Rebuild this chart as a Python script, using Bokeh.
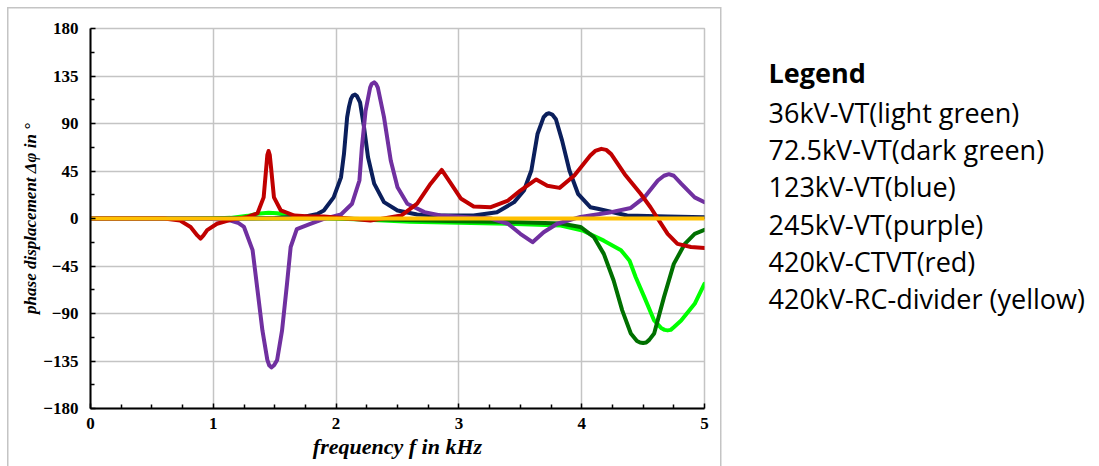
from bokeh.plotting import figure
from bokeh.models import Range1d, FixedTicker
from bokeh.layouts import row
from bokeh.core.properties import value
from bokeh.embed import file_html
from bokeh.resources import INLINE

# ---------------- data ----------------
names = ["36kV-VT(light green)", "72.5kV-VT(dark green)", "123kV-VT(blue)",
         "245kV-VT(purple)", "420kV-CTVT(red)", "420kV-RC-divider (yellow)"]
colors = ["#00ff00", "#007000", "#0b1f5c", "#7030a0", "#c00000", "#ffc000"]

x_lgreen = [0, 0.5, 1.0, 1.14, 1.28, 1.36, 1.45, 1.52, 1.63, 1.75, 2.0, 2.3, 2.6, 3.0, 3.4,
            3.83, 4.007, 4.18, 4.32, 4.39, 4.44, 4.51, 4.59, 4.65, 4.675, 4.70, 4.725, 4.75,
            4.81, 4.92, 5.0]
y_lgreen = [0, 0, 0, 0.6, 2.5, 4.4, 5.5, 5, 2.8, 1, 0, -1.5, -3, -4, -5,
            -6.6, -11.4, -21, -30, -40, -55.6, -74.5, -96.6, -104, -105.5, -106, -105.5, -103,
            -96.6, -80.8, -61.8]

x_dgreen = [0, 1.0, 2.0, 2.4, 3.0, 3.5, 3.83, 3.99, 4.10, 4.18, 4.26, 4.33, 4.40, 4.45,
            4.475, 4.50, 4.525, 4.55, 4.59, 4.67, 4.75, 4.84, 4.92, 5.0]
y_dgreen = [0, 0, 0, -1, -2.5, -3.5, -4.7, -8, -17.7, -33.5, -58.7, -87, -109, -116,
            -117.5, -118, -117.5, -115, -109, -74.5, -43, -24, -14.5, -10.7]

x_blue = [0, 1.0, 1.5, 1.75, 1.85, 1.90, 1.98, 2.04, 2.064, 2.09, 2.105, 2.12, 2.135, 2.154,
          2.17, 2.195, 2.228, 2.26, 2.31, 2.39, 2.50, 2.66, 2.85, 3.12, 3.31, 3.45, 3.53,
          3.59, 3.64, 3.69, 3.715, 3.735, 3.76, 3.79, 3.84, 3.90, 3.97, 4.07, 4.13, 4.37,
          4.7, 5.0]
y_blue = [0, 0, 0.5, 2, 4.4, 7.6, 20, 39, 61, 96, 106, 113, 116.5, 117.4,
          116, 110, 86, 58, 33, 15.5, 7.6, 3.8, 2.8, 2.8, 6, 15.5, 26.5,
          45.5, 80, 96, 99, 99.7, 98.5, 94, 74, 45.5, 23.4, 10.7, 9.2, 2.8,
          1.8, 1.3]

x_purple = [0, 0.8, 1.0, 1.14, 1.20, 1.25, 1.32, 1.36, 1.40, 1.44, 1.455, 1.473, 1.495, 1.52,
            1.56, 1.60, 1.63, 1.68, 1.79, 1.90, 2.04, 2.13, 2.19, 2.21, 2.24, 2.277, 2.29,
            2.31, 2.325, 2.34, 2.39, 2.445, 2.50, 2.58, 2.72, 2.85, 3.10, 3.26, 3.40, 3.50,
            3.60, 3.69, 3.80, 3.99, 4.24, 4.40, 4.51, 4.62, 4.67, 4.71, 4.75, 4.81, 4.92, 5.0]
y_purple = [0, 0, -0.5, -2, -4, -8, -30, -68, -106, -134, -139, -141, -139, -134,
            -106, -62, -27, -10, -5, -0.3, 3.8, 14, 36, 67.5, 102, 124, 127.5,
            129, 127.5, 124, 96, 55, 29.6, 14, 6, 2.8, 1, 0, -5, -14.5,
            -22.4, -13, -5, 1.5, 6, 10, 20, 36, 40.5, 42, 40.5, 33, 20, 15.4]

x_red = [0, 0.6, 0.73, 0.815, 0.87, 0.896, 0.92, 0.95, 1.03, 1.14, 1.28, 1.36, 1.41, 1.434,
         1.44, 1.45, 1.46, 1.47, 1.494, 1.55, 1.66, 1.79, 1.90, 2.1, 2.28, 2.53, 2.66, 2.77,
         2.86, 2.93, 3.015, 3.12, 3.26, 3.40, 3.50, 3.63, 3.72, 3.82, 3.94, 4.07, 4.11, 4.16,
         4.20, 4.24, 4.35, 4.48, 4.56, 4.63, 4.70, 4.78, 4.89, 5.0]
y_red = [0, 0, -2, -8, -16, -19, -16, -11, -5, -1.3, 1.5, 5, 20, 52,
         60, 64, 60, 48.6, 20, 7.6, 2.8, 1.9, 1.9, 0, -2, 2.8, 14, 33,
         46, 34, 19, 11.4, 10.7, 17, 26.5, 37, 31, 29, 40.7, 59.7, 64, 66,
         65, 61, 42, 23.4, 10.7, -2, -14.5, -24, -27, -28]

x_yellow = [0, 1, 2, 3, 4, 5]
y_yellow = [0, 0, 0, 0, 0, 0]

x_ticks = [0, 1, 2, 3, 4, 5]
y_ticks = [-180, -135, -90, -45, 0, 45, 90, 135, 180]
x_label = "frequency f in kHz"
y_label = "phase displacement \u0394\u03c6 in \u00b0"
legend_title = "Legend"

series = [(x_lgreen, y_lgreen), (x_dgreen, y_dgreen), (x_blue, y_blue),
          (x_purple, y_purple), (x_red, y_red), (x_yellow, y_yellow)]

GRID = "#c4c4c4"
W1, H = 722, 466

# ---------------- chart ----------------
# thin gray frame around the chart panel (CSS lines behind a transparent border area)
frame_css = {
    "background-image": ", ".join([f"linear-gradient({GRID}, {GRID})"] * 3),
    "background-position": "7px 7px, 7px 7px, 720px 7px",
    "background-size": "714px 1.5px, 1.5px 500px, 1.5px 500px",
    "background-repeat": "no-repeat",
}
p = figure(width=W1, height=H, output_backend="svg", toolbar_location=None,
           x_range=Range1d(0, 5), y_range=Range1d(-180, 180),
           min_border_left=90, min_border_right=W1 - 704, min_border_top=28,
           min_border_bottom=H - 408, styles=frame_css)
p.background_fill_color = "white"
p.border_fill_alpha = 0
p.outline_line_color = GRID
p.outline_line_width = 1.5

minor_x = [i * 0.25 for i in range(21) if i % 4 != 0]
minor_y = [-180 + 22.5 * i for i in range(17) if i % 2 == 1]
p.xaxis.ticker = FixedTicker(ticks=x_ticks, minor_ticks=minor_x)
p.yaxis.ticker = FixedTicker(ticks=y_ticks, minor_ticks=minor_y)

for ax in (p.xaxis, p.yaxis):
    ax.axis_line_color = "black"
    ax.axis_line_width = 2
    ax.major_tick_in = 5
    ax.major_tick_out = 0
    ax.minor_tick_in = 4
    ax.minor_tick_out = 0
    ax.major_tick_line_color = "black"
    ax.minor_tick_line_color = "black"
    ax.major_tick_line_width = 1.5
    ax.minor_tick_line_width = 1.5
    ax.major_label_text_font = "Liberation Serif"
    ax.major_label_text_font_style = "bold"
    ax.major_label_text_font_size = "17px"
    ax.major_label_text_color = "black"
    ax.axis_label_text_font = "Liberation Serif"
    ax.axis_label_text_font_style = "bold italic"
    ax.axis_label_text_color = "black"

p.xaxis.axis_label = x_label
p.yaxis.axis_label = y_label
p.xaxis.axis_label_text_font_size = "22px"
p.yaxis.axis_label_text_font_size = "17px"
p.xaxis.major_label_standoff = 9
p.yaxis.major_label_standoff = 12
p.xaxis.axis_label_standoff = 2
p.yaxis.axis_label_standoff = 0

p.xgrid.grid_line_color = GRID
p.ygrid.grid_line_color = GRID
p.xgrid.grid_line_width = 1.5
p.ygrid.grid_line_width = 1.5

for (xs, ys), c in zip(series, colors):
    p.line(xs, ys, line_color=c, line_width=4, line_join="round", line_cap="round")

# ---------------- legend panel (coordinates = page pixels) ----------------
W2 = 370
q = figure(width=W2, height=H, output_backend="svg", toolbar_location=None,
           x_range=Range1d(W1, W1 + W2), y_range=Range1d(408, 28),
           x_axis_type=None, y_axis_type=None,
           min_border_left=0, min_border_right=0, min_border_top=28, min_border_bottom=H - 408)
q.outline_line_color = None
q.xgrid.visible = False
q.ygrid.visible = False
q.background_fill_color = "white"
q.border_fill_color = "white"

q.text(x=[768], y=[72], text=[legend_title], text_font=value("Open Sans"),
       text_font_size="27px", text_font_style="bold", text_baseline="middle",
       text_color="black")
q.text(x=[768] * len(names), y=[112 + 37.2 * i for i in range(len(names))], text=names,
       text_font=value("Open Sans"), text_font_size="27px", text_baseline="middle",
       text_color="black")

layout = row(p, q, spacing=0)
open("out.html", "w").write(file_html(layout, INLINE))
